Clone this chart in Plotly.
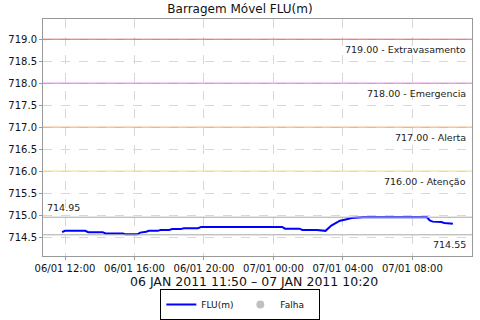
import plotly.graph_objects as go

# Data
times = [
    "2011-01-06 11:50", "2011-01-06 12:00", "2011-01-06 13:10", "2011-01-06 13:20",
    "2011-01-06 14:10", "2011-01-06 14:20", "2011-01-06 15:20", "2011-01-06 15:30",
    "2011-01-06 16:10", "2011-01-06 16:20", "2011-01-06 16:40", "2011-01-06 16:50",
    "2011-01-06 17:20", "2011-01-06 17:30", "2011-01-06 18:00", "2011-01-06 18:10",
    "2011-01-06 18:40", "2011-01-06 18:50", "2011-01-06 19:40", "2011-01-06 19:50",
    "2011-01-07 00:30", "2011-01-07 00:40", "2011-01-07 01:30", "2011-01-07 01:40",
    "2011-01-07 02:30", "2011-01-07 02:40", "2011-01-07 03:00", "2011-01-07 03:20",
    "2011-01-07 03:40", "2011-01-07 03:50", "2011-01-07 04:10", "2011-01-07 04:30",
    "2011-01-07 05:10", "2011-01-07 08:50", "2011-01-07 09:00", "2011-01-07 09:10",
    "2011-01-07 09:40", "2011-01-07 09:50", "2011-01-07 10:10", "2011-01-07 10:20",
]
flu = [
    714.61, 714.64, 714.64, 714.61,
    714.61, 714.58, 714.58, 714.56,
    714.56, 714.60, 714.62, 714.64,
    714.64, 714.66, 714.66, 714.68,
    714.68, 714.70, 714.70, 714.73,
    714.73, 714.69, 714.69, 714.66,
    714.66, 714.65, 714.64, 714.76,
    714.84, 714.87, 714.90, 714.93,
    714.95, 714.95, 714.88, 714.85,
    714.84, 714.82, 714.81, 714.80,
]

levels = [719.00, 718.00, 717.00, 716.00]
level_names = ["Extravasamento", "Emergencia", "Alerta", "Atenção"]
level_colors = ["#E06060", "#DD70DD", "#F0A860", "#E8DC80"]

max_val = 714.95
min_val = 714.55

font = "DejaVu Sans"

fig = go.Figure()
fig.add_trace(go.Scatter(
    x=times, y=flu, mode="lines", name="FLU(m)",
    line=dict(color="#0000FF", width=2),
))
fig.add_trace(go.Scatter(
    x=[None], y=[None], mode="markers", name="Falha",
    marker=dict(color="#C0C0C0", size=8, symbol="circle"),
))

shapes = []
annotations = []
for lv, nm, col in zip(levels, level_names, level_colors):
    shapes.append(dict(type="line", xref="paper", x0=0, x1=1, yref="y", y0=lv, y1=lv,
                       line=dict(color=col, width=1)))
    annotations.append(dict(xref="paper", x=1, xanchor="right", xshift=-4,
                            yref="y", y=lv, yanchor="top", yshift=-3,
                            text=f"{lv:.2f} - {nm}", showarrow=False,
                            font=dict(family=font, size=9.5, color="#222")))

for v in (max_val, min_val):
    shapes.append(dict(type="line", xref="paper", x0=0, x1=1, yref="y", y0=v, y1=v,
                       line=dict(color="#A8A8A8", width=1)))
annotations.append(dict(xref="paper", x=0, xanchor="left", xshift=2,
                        yref="y", y=max_val, yanchor="bottom", yshift=2,
                        text=f"{max_val:.2f}", showarrow=False,
                        font=dict(family=font, size=9.5, color="#222")))
annotations.append(dict(xref="paper", x=1, xanchor="right", xshift=-4,
                        yref="y", y=min_val, yanchor="top", yshift=-2,
                        text=f"{min_val:.2f}", showarrow=False,
                        font=dict(family=font, size=9.5, color="#222")))
annotations.append(dict(xref="paper", x=0.492, xanchor="center",
                        yref="paper", y=0, yanchor="middle", yshift=-25,
                        text="06 JAN 2011 11:50 – 07 JAN 2011 10:20", showarrow=False,
                        font=dict(family=font, size=12.5, color="#111")))

fig.update_layout(
    width=480, height=320,
    margin=dict(l=43, r=8, t=19, b=64, autoexpand=False),
    paper_bgcolor="white", plot_bgcolor="white",
    font=dict(family=font, size=10, color="#111"),
    title=dict(text="Barragem Móvel FLU(m)", x=0.5, xref="container", xanchor="center",
               y=1 - 9 / 320, yref="container", yanchor="middle",
               font=dict(family=font, size=12, color="#111")),
    showlegend=True,
    legend=dict(orientation="h", x=0.46, xanchor="center", y=-0.270, yanchor="bottom",
                bordercolor="#000", borderwidth=1, bgcolor="rgba(255,255,255,0)",
                font=dict(family=font, size=9, color="#111"),
                entrywidth=34, entrywidthmode="pixels",
                itemwidth=30, tracegroupgap=0),
    shapes=shapes, annotations=annotations,
    xaxis=dict(type="date", range=["2011-01-06 10:44", "2011-01-07 11:26"],
               tick0="2011-01-06 00:00", dtick=4 * 3600 * 1000,
               tickformat="%d/%m %H:%M",
               showgrid=True, gridcolor="#D8D8D8", griddash="dash", gridwidth=1,
               showline=True, linecolor="#999", mirror=True, linewidth=1,
               ticks="outside", ticklen=3, tickcolor="#999",
               tickfont=dict(family=font, size=10, color="#111"), zeroline=False),
    yaxis=dict(range=[714.068, 719.46], tick0=714.5, dtick=0.5, tickformat=".1f",
               showgrid=True, gridcolor="#D8D8D8", griddash="dash", gridwidth=1,
               showline=True, linecolor="#999", mirror=True, linewidth=1,
               ticks="outside", ticklen=3, tickcolor="#999",
               tickfont=dict(family=font, size=10, color="#111"), zeroline=False),
)

fig.write_html("out.html")
